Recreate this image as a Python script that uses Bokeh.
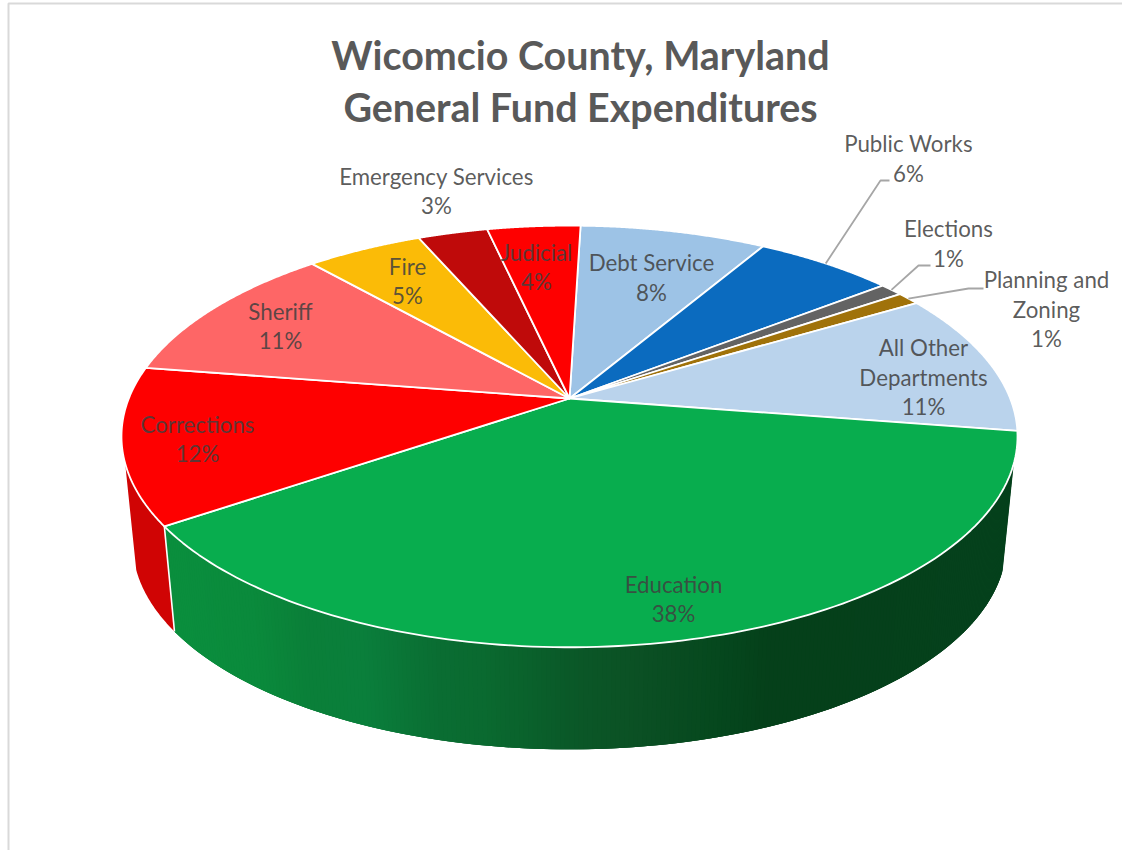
import numpy as np
from bokeh.core.properties import value
from bokeh.embed import file_html
from bokeh.plotting import figure
from bokeh.resources import INLINE

# General fund expenditure shares, percent, clockwise from the top of the pie
departments = ["Debt Service", "Public Works", "Elections", "Planning and Zoning",
               "All Other Departments", "Education", "Corrections", "Sheriff",
               "Fire", "Emergency Services", "Judicial"]
shares = [8, 6, 1, 1, 11, 38, 12, 11, 5, 3, 4]
face_colors = ["#9dc3e6", "#0b6bbf", "#636363", "#a0720a", "#bad3ec", "#08ad4e",
               "#fe0000", "#fe6666", "#fbbb07", "#bf0a0a", "#fe0000"]

title_lines = ["Wicomcio County, Maryland", "General Fund Expenditures"]

# Label text split into lines, with the block's centre x and each line's centre y
label_lines = {
    "Debt Service": (["Debt Service"], 651, [262, 292]),
    "Public Works": (["Public Works"], 908, [143, 173]),
    "Elections": (["Elections"], 948, [228, 258]),
    "Planning and Zoning": (["Planning and", "Zoning"], 1046, [279, 309, 338]),
    "All Other Departments": (["All Other", "Departments"], 923, [347, 377, 406]),
    "Education": (["Education"], 673, [584, 613]),
    "Corrections": (["Corrections"], 197, [424, 453]),
    "Sheriff": (["Sheriff"], 280, [311, 340]),
    "Fire": (["Fire"], 407, [266, 295]),
    "Emergency Services": (["Emergency Services"], 436, [176, 205]),
    "Judicial": (["Judicial"], 536, [252, 281]),
}
# Leader lines: knee and end point following the rim point of the slice
leaders = {
    "Public Works": [(880, 180), (889, 180)],
    "Elections": [(918, 265), (930, 265)],
    "Planning and Zoning": [(968, 288), (983, 288)],
}

# Perspective of the disc: pixel position of the hub and the projection terms
HUB_X, HUB_Y = 569.0, 398.0
TILT = 0.18
TOP_A, TOP_B = 440.7, 204.0
BASE_SCALE = 0.975
BASE_Y = 506.3
START_DEG = 1.7
# Angular span of the rim over which the wall is seen
WALL_FROM, WALL_TO = 107.5, 252.5


def project(deg, scale=1.0, hub_y=HUB_Y):
    """Map a clockwise angle from the top of the disc to a pixel position."""
    t = np.radians(deg)
    d = 1 + TILT * np.cos(t)
    return (HUB_X + scale * TOP_A * np.sin(t) / d,
            hub_y - scale * TOP_B * np.cos(t) / d)


edges = START_DEG + 3.6 * np.concatenate([[0], np.cumsum(shares)])
seam = edges[departments.index("Education") + 1]

# Shading of the green wall runs left to right across the pie
ramp_x = [165, 250, 300, 358, 430, 480, 572, 640, 715, 770, 1020]
ramp_r = [10, 10, 10, 10, 10, 10, 11, 11, 6, 5, 5]
ramp_g = [143, 138, 128, 127, 110, 106, 88, 80, 72, 64, 66]
ramp_b = [62, 60, 57, 60, 51, 48, 40, 36, 30, 26, 29]


def wall_color(x):
    return "#%02x%02x%02x" % (int(np.interp(x, ramp_x, ramp_r)),
                              int(np.interp(x, ramp_x, ramp_g)),
                              int(np.interp(x, ramp_x, ramp_b)))


p = figure(width=1122, height=850, x_range=(0, 1122), y_range=(850, 0),
           output_backend="svg", toolbar_location=None, min_border=0,
           background_fill_color="white", border_fill_color="white")
p.axis.visible = False
p.grid.visible = False
p.outline_line_color = None

# Chart area frame along the left and top
p.line([8, 8, 1122], [850, 3, 3], line_color="#d9d9d9", line_width=2)


def wall_strip(a0, a1):
    x0, y0 = project(a0)
    x1, y1 = project(a1)
    bx0, by0 = project(a0, BASE_SCALE, BASE_Y)
    bx1, by1 = project(a1, BASE_SCALE, BASE_Y)
    return [x0, x1, bx1, bx0], [y0, y1, by1, by0]


# Wall of the disc: each strip runs under the next one so no seams show through
wall_xs, wall_ys, wall_fill = [], [], []
angles = np.arange(WALL_FROM, seam, 0.5)
for a0 in angles:
    sx, sy = wall_strip(a0, min(a0 + 1.5, seam))
    wall_xs.append(sx)
    wall_ys.append(sy)
    wall_fill.append(wall_color(sum(sx[:2]) / 2))
p.patches(wall_xs, wall_ys, fill_color=wall_fill, line_color=None)

red_x, red_y = wall_strip(seam, seam)
arc = np.linspace(seam, WALL_TO, 60)
rim_x, rim_y = project(arc)
base_x, base_y = project(arc, BASE_SCALE, BASE_Y)
p.patch(np.concatenate([rim_x, base_x[::-1]]), np.concatenate([rim_y, base_y[::-1]]),
        fill_color="#d00404", line_color=None)

# White seam between the two wall colours
p.line(red_x[0:1] + red_x[3:], red_y[0:1] + red_y[3:], line_color="white", line_width=1.6)

# Top face of the pie
face_xs, face_ys = [], []
for i in range(len(shares)):
    rx, ry = project(np.linspace(edges[i], edges[i + 1], 120))
    face_xs.append([HUB_X] + rx.tolist())
    face_ys.append([HUB_Y] + ry.tolist())
p.patches(face_xs, face_ys, fill_color=face_colors, line_color="white", line_width=1.8,
          line_join="round")

# Leader lines for the labels set outside the pie
for name, tail in leaders.items():
    i = departments.index(name)
    lx0, ly0 = project((edges[i] + edges[i + 1]) / 2)
    p.line([float(lx0)] + [q[0] for q in tail], [float(ly0)] + [q[1] for q in tail],
           line_color="#a6a6a6", line_width=1.8)

# Title
p.text([580, 580], [54, 106], text=title_lines, text_font=value("Lato"),
       text_font_style="bold", text_font_size="39.4px", text_color="#595959",
       text_align="center", text_baseline="middle")

# Data labels: name lines followed by the percentage
lx, ly, lt = [], [], []
for name, share in zip(departments, shares):
    lines, cx, ys = label_lines[name]
    for text, y in zip(lines + [f"{share}%"], ys):
        lx.append(cx)
        ly.append(y)
        lt.append(text)
p.text(lx, ly, text=lt, text_font=value("Lato"), text_font_size="22.3px",
       text_color="#404040", text_alpha=0.85, text_align="center", text_baseline="middle")

open("out.html", "w").write(file_html(p, INLINE))
